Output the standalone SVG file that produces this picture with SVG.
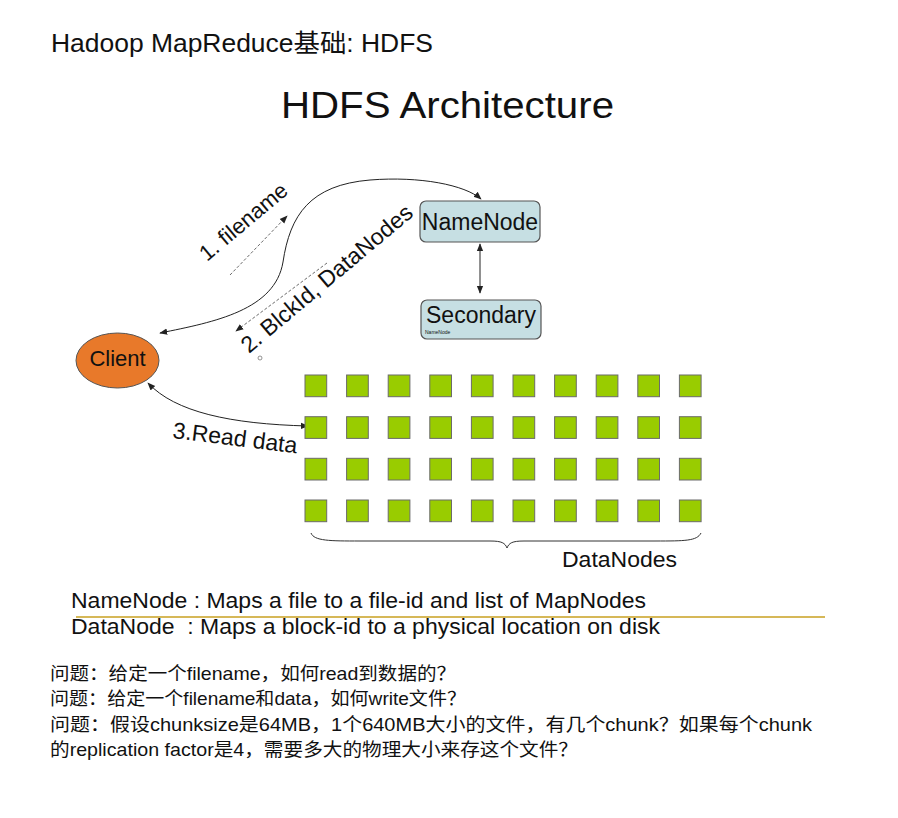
<svg xmlns="http://www.w3.org/2000/svg" width="898" height="818" viewBox="0 0 898 818">
<style>
.t{font-family:"Liberation Sans",Arial,sans-serif;fill:#111}
.cn{font-family:"Liberation Sans","Noto Sans CJK SC",sans-serif;fill:#111}
.box{fill:#c6dfe3;stroke:#555;stroke-width:1.2}
.dn{fill:#99cc00;stroke:#6b6b6b;stroke-width:1}
.conn{fill:none;stroke:#222;stroke-width:1}
.dash{fill:none;stroke:#444;stroke-width:0.8;stroke-dasharray:3 2}
</style>
<defs>
<marker id="ah" viewBox="0 0 10 10" refX="9" refY="5" markerWidth="8" markerHeight="8" markerUnits="userSpaceOnUse" orient="auto-start-reverse">
<path d="M0,1 L10,5 L0,9 z" fill="#222"/>
</marker>
</defs>
<rect width="898" height="818" fill="#fff"/>

<text class="cn" x="51" y="52" font-size="25.5" textLength="382" lengthAdjust="spacingAndGlyphs">Hadoop MapReduce基础: HDFS</text>
<text class="t" x="281" y="118" font-size="37" textLength="333" lengthAdjust="spacingAndGlyphs">HDFS Architecture</text>

<g id="connectors">
<path class="conn" d="M160,333 C215,322 275,310 283,262 C290,215 310,185 370,180 C420,176 465,185 481,199" marker-start="url(#ah)" marker-end="url(#ah)"/>
<line class="dash" x1="230" y1="275" x2="287" y2="216" marker-end="url(#ah)"/>
<line class="dash" x1="327" y1="263" x2="236" y2="331" marker-end="url(#ah)"/>
<line class="conn" x1="480" y1="244" x2="480" y2="293" marker-start="url(#ah)" marker-end="url(#ah)"/>
<path class="conn" d="M148,383 C175,412 230,424 308,426" marker-start="url(#ah)" marker-end="url(#ah)"/>
<text class="t" font-size="22" transform="translate(207,262) rotate(-40)">1. filename</text>
<text class="t" font-size="23" transform="translate(249,354) rotate(-40)">2. BlckId, DataNodes</text>
<circle cx="260" cy="358" r="2" fill="none" stroke="#777" stroke-width="0.8"/>
<text class="t" font-size="23" transform="translate(172,438) rotate(7)">3.Read data</text>
</g>

<g id="namenode">
<rect class="box" x="420" y="201" width="120" height="41" rx="6"/>
<text class="t" x="480" y="230" font-size="23" text-anchor="middle">NameNode</text>
</g>

<g id="secondary">
<rect class="box" x="421" y="300" width="120" height="39" rx="6"/>
<text class="t" x="481" y="323" font-size="23" text-anchor="middle">Secondary</text>
<text class="t" x="425" y="334" font-size="5">NameNode</text>
</g>

<g id="client">
<ellipse cx="117.5" cy="360.5" rx="41.5" ry="27.5" fill="#e8792a" stroke="#555" stroke-width="1"/>
<text class="t" x="117.5" y="366" font-size="22" text-anchor="middle">Client</text>
</g>

<g id="datanodes">
<g id="dn-row1">
<rect class="dn" x="305" y="375" width="21.7" height="21.7"/>
<rect class="dn" x="346.6" y="375" width="21.7" height="21.7"/>
<rect class="dn" x="388.2" y="375" width="21.7" height="21.7"/>
<rect class="dn" x="429.8" y="375" width="21.7" height="21.7"/>
<rect class="dn" x="471.4" y="375" width="21.7" height="21.7"/>
<rect class="dn" x="513" y="375" width="21.7" height="21.7"/>
<rect class="dn" x="554.6" y="375" width="21.7" height="21.7"/>
<rect class="dn" x="596.2" y="375" width="21.7" height="21.7"/>
<rect class="dn" x="637.8" y="375" width="21.7" height="21.7"/>
<rect class="dn" x="679.4" y="375" width="21.7" height="21.7"/>
</g>
<g id="dn-row2">
<rect class="dn" x="305" y="416.7" width="21.7" height="21.7"/>
<rect class="dn" x="346.6" y="416.7" width="21.7" height="21.7"/>
<rect class="dn" x="388.2" y="416.7" width="21.7" height="21.7"/>
<rect class="dn" x="429.8" y="416.7" width="21.7" height="21.7"/>
<rect class="dn" x="471.4" y="416.7" width="21.7" height="21.7"/>
<rect class="dn" x="513" y="416.7" width="21.7" height="21.7"/>
<rect class="dn" x="554.6" y="416.7" width="21.7" height="21.7"/>
<rect class="dn" x="596.2" y="416.7" width="21.7" height="21.7"/>
<rect class="dn" x="637.8" y="416.7" width="21.7" height="21.7"/>
<rect class="dn" x="679.4" y="416.7" width="21.7" height="21.7"/>
</g>
<g id="dn-row3">
<rect class="dn" x="305" y="458.3" width="21.7" height="21.7"/>
<rect class="dn" x="346.6" y="458.3" width="21.7" height="21.7"/>
<rect class="dn" x="388.2" y="458.3" width="21.7" height="21.7"/>
<rect class="dn" x="429.8" y="458.3" width="21.7" height="21.7"/>
<rect class="dn" x="471.4" y="458.3" width="21.7" height="21.7"/>
<rect class="dn" x="513" y="458.3" width="21.7" height="21.7"/>
<rect class="dn" x="554.6" y="458.3" width="21.7" height="21.7"/>
<rect class="dn" x="596.2" y="458.3" width="21.7" height="21.7"/>
<rect class="dn" x="637.8" y="458.3" width="21.7" height="21.7"/>
<rect class="dn" x="679.4" y="458.3" width="21.7" height="21.7"/>
</g>
<g id="dn-row4">
<rect class="dn" x="305" y="500" width="21.7" height="21.7"/>
<rect class="dn" x="346.6" y="500" width="21.7" height="21.7"/>
<rect class="dn" x="388.2" y="500" width="21.7" height="21.7"/>
<rect class="dn" x="429.8" y="500" width="21.7" height="21.7"/>
<rect class="dn" x="471.4" y="500" width="21.7" height="21.7"/>
<rect class="dn" x="513" y="500" width="21.7" height="21.7"/>
<rect class="dn" x="554.6" y="500" width="21.7" height="21.7"/>
<rect class="dn" x="596.2" y="500" width="21.7" height="21.7"/>
<rect class="dn" x="637.8" y="500" width="21.7" height="21.7"/>
<rect class="dn" x="679.4" y="500" width="21.7" height="21.7"/>
</g>
<path fill="none" stroke="#333" stroke-width="1" d="M311,533 C314,541 330,541 360,541 L490,541 C502,541 505,543 507,548 C509,543 512,541 524,541 L655,541 C685,541 697,541 701,533"/>
<text class="t" x="562" y="567" font-size="21.5" textLength="115" lengthAdjust="spacingAndGlyphs">DataNodes</text>
</g>

<g id="legend">
<text class="t" x="71" y="608" font-size="22" textLength="575" lengthAdjust="spacingAndGlyphs">NameNode : Maps a file to a file-id and list of MapNodes</text>
<line x1="76" y1="617" x2="825" y2="617" stroke="#c8a020" stroke-width="1.6"/>
<text class="t" x="71" y="634" font-size="22" textLength="589" lengthAdjust="spacingAndGlyphs">DataNode&#160; : Maps a block-id to a physical location on disk</text>
</g>

<g id="questions">
<text class="cn" x="50" y="680" font-size="18.5" textLength="406" lengthAdjust="spacingAndGlyphs">问题：给定一个filename，如何read到数据的？</text>
<text class="cn" x="50" y="705" font-size="18.5" textLength="416" lengthAdjust="spacingAndGlyphs">问题：给定一个filename和data，如何write文件？</text>
<text class="cn" x="50" y="731" font-size="18.5" textLength="762" lengthAdjust="spacingAndGlyphs">问题：假设chunksize是64MB，1个640MB大小的文件，有几个chunk？如果每个chunk</text>
<text class="cn" x="50" y="756" font-size="18.5" textLength="528" lengthAdjust="spacingAndGlyphs">的replication factor是4，需要多大的物理大小来存这个文件？</text>
</g>
</svg>
